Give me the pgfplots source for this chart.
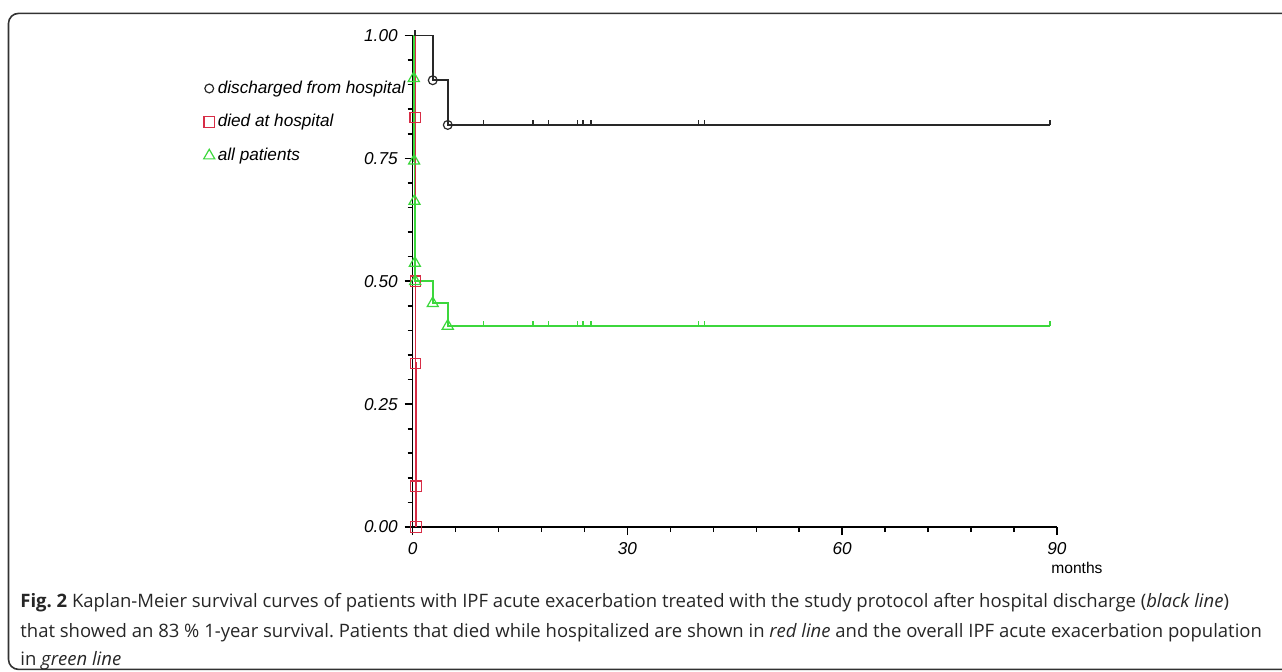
\documentclass[border=0pt]{standalone}
\usepackage{pgfplots}
\pgfplotsset{compat=1.18}
\usepackage{fontspec}
\setmainfont{Liberation Sans}
\newfontfamily\capfont{Open Sans}
\definecolor{kmblack}{RGB}{40,40,40}
\definecolor{kmred}{RGB}{215,45,70}
\definecolor{kmgreen}{RGB}{60,215,60}
\definecolor{boxgray}{RGB}{50,50,50}
% censoring tick: short stroke pointing up
\pgfdeclareplotmark{cens}{%
  \pgfpathmoveto{\pgfqpoint{0pt}{0pt}}%
  \pgfpathlineto{\pgfqpoint{0pt}{2.6pt}}%
  \pgfusepathqstroke}

\begin{document}
\frenchspacing
\begin{tikzpicture}
\path[use as bounding box] (0,0) rectangle (641pt,335.5pt);
\draw[boxgray, line width=0.8pt, rounded corners=5pt] (4.25pt,0.8pt) rectangle (720pt,328.8pt);

\begin{axis}[
  at={(206.35pt,72pt)}, anchor=south west,
  scale only axis, width=322.15pt, height=245.75pt,
  xmin=0, xmax=90, ymin=0, ymax=1,
  axis x line=bottom, axis y line=left,
  axis line style={-, line width=0.8pt, black},
  xtick={0,30,60,90}, xticklabels={0,30,60,90},
  ytick={0,0.25,0.5,0.75,1}, yticklabels={0.00,0.25,0.50,0.75,1.00},
  minor x tick num=4, minor y tick num=4,
  tick align=outside,
  major tick length=4pt, minor tick length=2.5pt,
  every tick/.style={black, line width=0.8pt},
  tick label style={font=\fontsize{8.6pt}{10pt}\selectfont\itshape},
  xlabel={months},
  xlabel style={at={(axis description cs:1.031,-0.083)}, anchor=center,
    font=\fontsize{7.8pt}{9pt}\selectfont},
  clip=false,
  legend cell align=left,
  legend image code/.code={\draw[#1] plot coordinates {(0pt,0pt)};},
  legend style={at={(axis description cs:-0.325,0.915)}, anchor=north west,
    draw=none, fill=none, inner sep=0pt, row sep=6pt,
    font=\fontsize{8.6pt}{10pt}\selectfont\itshape,
    nodes={inner sep=1.5pt, text height=6.2pt, text depth=1.6pt}},
]
% discharged from hospital
\addplot[kmblack, line width=0.9pt, const plot, forget plot]
  coordinates {(0,1) (2.8,0.909) (4.9,0.818) (89,0.818)};
\addplot[only marks, mark=o, kmblack, mark size=2.2pt, mark options={line width=0.6pt}, forget plot]
  coordinates {(2.8,0.909) (4.9,0.818)};
\addplot[only marks, mark=cens, kmblack, mark options={line width=0.7pt}, forget plot]
  coordinates {(0.3,1) (9.9,0.818) (16.8,0.818) (19.0,0.818) (23.0,0.818)
    (23.8,0.818) (24.9,0.818) (39.9,0.818) (40.8,0.818) (89,0.818)};
% died at hospital
\addplot[kmred, line width=0.9pt, const plot, forget plot]
  coordinates {(0,1) (0.35,0.833) (0.4,0.5) (0.4,0.333) (0.45,0.083) (0.45,0)};
\addplot[only marks, mark=square, kmred, mark size=2.6pt, mark options={line width=0.6pt}, forget plot]
  coordinates {(0.35,0.833) (0.4,0.5) (0.4,0.333) (0.45,0.083) (0.45,0)};
% all patients
\addplot[kmgreen, line width=0.9pt, const plot, forget plot]
  coordinates {(0,1) (0.15,0.913) (0.2,0.745) (0.25,0.663) (0.3,0.537)
    (0.35,0.5) (2.8,0.455) (4.9,0.409) (89,0.409)};
\addplot[only marks, mark=triangle, kmgreen, mark size=3.2pt, mark options={line width=0.6pt}, forget plot]
  coordinates {(0.15,0.913) (0.2,0.745) (0.25,0.663) (0.3,0.537)
    (0.35,0.5) (2.8,0.455) (4.9,0.409)};
\addplot[only marks, mark=cens, kmgreen, mark options={line width=0.7pt}, forget plot]
  coordinates {(9.9,0.409) (16.8,0.409) (19.0,0.409) (23.0,0.409)
    (23.8,0.409) (24.9,0.409) (39.9,0.409) (40.8,0.409) (89,0.409)};

\addlegendimage{only marks, mark=o, kmblack, mark size=2.2pt, mark options={line width=0.6pt}}
\addlegendentry{discharged from hospital}
\addlegendimage{only marks, mark=square, kmred, mark size=2.6pt, mark options={line width=0.6pt}}
\addlegendentry{died at hospital}
\addlegendimage{only marks, mark=triangle, kmgreen, mark size=3.2pt, mark options={line width=0.6pt}}
\addlegendentry{all patients}
\end{axis}

\begin{scope}[every node/.style={anchor=base west, inner sep=0pt,
    font=\capfont\fontsize{9.25pt}{11pt}\selectfont, text=black!85}]
\node at (10pt,32pt) {\textbf{Fig. 2} Kaplan-Meier survival curves of patients with IPF acute exacerbation treated with the study protocol after hospital discharge (\textit{black line})};
\node at (10pt,17pt) {that showed an 83 \% 1-year survival. Patients that died while hospitalized are shown in \textit{red line} and the overall IPF acute exacerbation population};
\node at (10pt,3pt) {in \textit{green line}};
\end{scope}
\end{tikzpicture}
\end{document}
